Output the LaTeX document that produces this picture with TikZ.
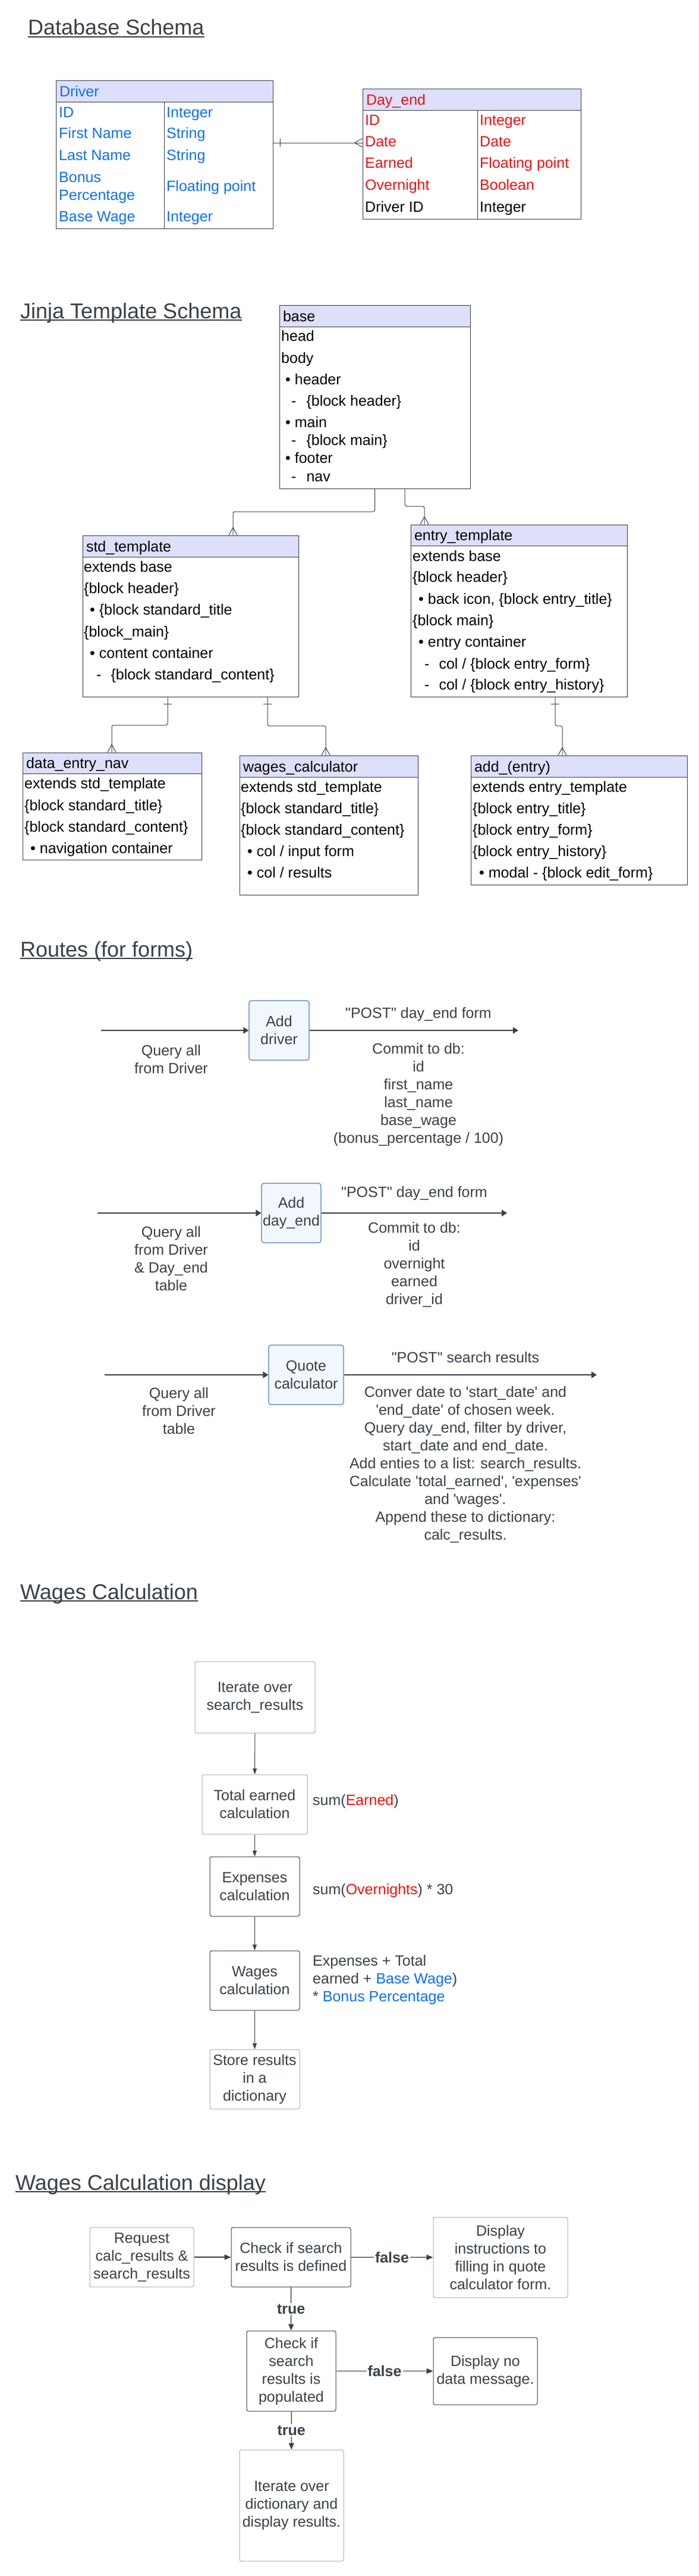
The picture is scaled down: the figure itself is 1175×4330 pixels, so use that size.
\documentclass[tikz,border=0pt]{standalone}
\usepackage{fontspec}
\setmainfont{Liberation Sans}
\usetikzlibrary{arrows.meta,decorations.markings}

\definecolor{ink}{HTML}{3A414A}
\definecolor{headfill}{HTML}{DEDFFA}
\definecolor{dbblue}{HTML}{1071E5}
\definecolor{dbred}{HTML}{E81313}
\definecolor{routefill}{HTML}{F2F7FD}
\definecolor{routeline}{HTML}{4B7DB8}
\definecolor{softline}{HTML}{A9ADB3}

\newcommand{\rowfont}{\fontsize{25}{30}\selectfont}
\newcommand{\titlefont}{\fontsize{36}{43}\selectfont}
\newcommand{\dquo}{\textquotedbl}
\newcommand{\squo}{\textquotesingle}

\tikzset{
  heading/.style={anchor=base west, inner sep=0pt, font=\titlefont, text=ink},
  titlerule/.style={draw=ink, line width=2pt},
  tablebody/.style={draw=ink, line width=1pt, fill=white, inner sep=0pt},
  tablehead/.style={draw=ink, line width=1pt, fill=headfill, anchor=north, inner xsep=6pt, inner ysep=0pt, align=left, font=\rowfont, text height=18pt, text depth=0pt},
  tableline/.style={draw=ink, line width=1pt},
  row/.style={anchor=west, inner sep=0pt, font=\rowfont, text height=18pt, text depth=0pt},
  relation/.style={draw=ink, line width=1pt, rounded corners=3pt},
  onemark/.style={postaction={decorate, decoration={markings, mark=at position 12pt with {\draw[ink, line width=1pt] (0pt,-7pt) -- (0pt,7pt);}}}},
  crowfoot/.style={postaction={decorate, decoration={markings, mark=at position 1 with {\draw[ink, line width=1pt] (-13pt,0pt) -- (0pt,7pt) (-13pt,0pt) -- (0pt,-7pt);}}}},
  routebox/.style={draw=routeline, fill=routefill, line width=1.2pt, rounded corners=4pt, minimum height=100pt, align=center, font=\rowfont, text=ink, inner sep=0pt},
  route/.style={draw=ink, line width=1.5pt, -{Triangle[length=9pt, width=11pt]}},
  note/.style={align=center, font=\rowfont, text=ink, inner sep=0pt},
  sidenote/.style={anchor=west, align=left, font=\rowfont, text=ink, inner sep=0pt},
  flowbox/.style={draw=ink, line width=1pt, rounded corners=3pt, align=center, font=\rowfont, text=ink, inner sep=0pt},
  softbox/.style={flowbox, draw=softline},
  wstep/.style={draw=ink, line width=1pt, -{Triangle[length=10pt, width=7pt]}},
  dflow/.style={draw=ink, line width=1.3pt, -{Triangle[length=11pt, width=9pt]}},
  decision/.style={fill=white, font=\rowfont\bfseries, text=ink, inner sep=2pt}
}

\begin{document}
\begin{tikzpicture}[x=1pt, y=-1pt]

    \fill[white] (0,0) rectangle (1175,4330);
    \useasboundingbox (0,0) rectangle (1175,4330);

    \coordinate (C1)  at (276.5, 260);
    \coordinate (C2)  at (793.5, 259);
    \coordinate (C3)  at (630.5, 667);
    \coordinate (C4)  at (320.5, 1035.5);
    \coordinate (C5)  at (873, 1026.5);
    \coordinate (C6)  at (188.5, 1355);
    \coordinate (C7)  at (553, 1387);
    \coordinate (C8)  at (974, 1378.5);
    \coordinate (C9)  at (469.5, 1732);
    \coordinate (C10) at (490, 2039);
    \coordinate (C11) at (515, 2311);
    \coordinate (C12) at (429, 2853);
    \coordinate (C13) at (428.5, 3033);
    \coordinate (C14) at (428.5, 3171);
    \coordinate (C15) at (428.5, 3329);
    \coordinate (C16) at (428.5, 3495);
    \coordinate (C17) at (238.5, 3794);
    \coordinate (C18) at (489.5, 3794);
    \coordinate (C19) at (842, 3794.5);
    \coordinate (C20) at (490, 3985.5);
    \coordinate (C21) at (816.5, 3985.5);
    \coordinate (C22) at (490.5, 4211.5);

    \coordinate (L0)  at (0, 240);
    \coordinate (L2a) at (681, 851);
    \coordinate (L2b) at (714, 851);
    \coordinate (L1)  at (392, 860);
    \coordinate (L3a) at (282, 1219);
    \coordinate (L3b) at (188, 1219);
    \coordinate (L4a) at (450, 1220);
    \coordinate (L4b) at (548, 1220);
    \coordinate (L5a) at (934, 1220);
    \coordinate (L5b) at (946, 1220);

    \coordinate (R1a) at (170, 1732);
    \coordinate (R1b) at (872, 1732);
    \coordinate (R2a) at (164, 2039);
    \coordinate (R2b) at (853, 2039);
    \coordinate (R3a) at (176, 2311);
    \coordinate (R3b) at (1004, 2311);

    \node[heading] (H1) at (47, 59)   {Database Schema};
    \node[heading] (H2) at (34, 535)  {Jinja Template Schema};
    \node[heading] (H3) at (34, 1608) {Routes (for forms)};
    \node[heading] (H4) at (34, 2688) {Wages Calculation};
    \node[heading] (H5) at (26, 3681) {Wages Calculation display};

    \node[tablebody, minimum width=365pt, minimum height=248pt] (Driver) at (C1) {};
    \node[tablehead, text width=353pt, minimum height=36pt, text=dbblue] (DriverHead) at (Driver.north) {Driver};
    \node[row, text=dbblue] (DR1) at (99, 188) {ID};
    \node[row, text=dbblue] (DR2) at (99, 224) {First Name};
    \node[row, text=dbblue] (DR3) at (99, 260) {Last Name};
    \node[row, text=dbblue] (DR4) at (99, 297) {Bonus};
    \node[row, text=dbblue] (DR5) at (99, 327) {Percentage};
    \node[row, text=dbblue] (DR6) at (99, 363) {Base Wage};
    \node[row, text=dbblue] (DT1) at (280, 188) {Integer};
    \node[row, text=dbblue] (DT2) at (280, 224) {String};
    \node[row, text=dbblue] (DT3) at (280, 260) {String};
    \node[row, text=dbblue] (DT4) at (280, 312) {Floating point};
    \node[row, text=dbblue] (DT5) at (280, 363) {Integer};

    \node[tablebody, minimum width=367pt, minimum height=218pt] (DayEnd) at (C2) {};
    \node[tablehead, text width=355pt, minimum height=36pt, text=dbred] (DayEndHead) at (DayEnd.north) {Day\_end};
    \node[row, text=dbred] (ER1) at (614, 202) {ID};
    \node[row, text=dbred] (ER2) at (614, 238) {Date};
    \node[row, text=dbred] (ER3) at (614, 273) {Earned};
    \node[row, text=dbred] (ER4) at (614, 310) {Overnight};
    \node[row]             (ER5) at (614, 347) {Driver ID};
    \node[row, text=dbred] (ET1) at (807, 202) {Integer};
    \node[row, text=dbred] (ET2) at (807, 238) {Date};
    \node[row, text=dbred] (ET3) at (807, 273) {Floating point};
    \node[row, text=dbred] (ET4) at (807, 310) {Boolean};
    \node[row]             (ET5) at (807, 347) {Integer};

    \node[tablebody, minimum width=321pt, minimum height=308pt] (Base) at (C3) {};
    \node[tablehead, text width=309pt, minimum height=36pt] (BaseHead) at (Base.north) {base};
    \node[row] (B1) at (473, 564) {head};
    \node[row] (B2) at (473, 601) {body};
    \node[row] (B3) at (480, 637) {\textbullet\ header};
    \node[row] (B4) at (490, 673) {-\hspace{17pt}\{block header\}};
    \node[row] (B5) at (480, 709) {\textbullet\ main};
    \node[row] (B6) at (490, 739) {-\hspace{17pt}\{block main\}};
    \node[row] (B7) at (480, 769) {\textbullet\ footer};
    \node[row] (B8) at (490, 800) {-\hspace{17pt}nav};

    \node[tablebody, minimum width=363pt, minimum height=271pt] (Std) at (C4) {};
    \node[tablehead, text width=351pt, minimum height=36pt] (StdHead) at (Std.north) {std\_template};
    \node[row] (S1) at (141, 952)  {extends base};
    \node[row] (S2) at (141, 988)  {\{block header\}};
    \node[row] (S3) at (151, 1024) {\textbullet\ \{block standard\_title};
    \node[row] (S4) at (141, 1061) {\{block\_main\}};
    \node[row] (S5) at (151, 1097) {\textbullet\ content container};
    \node[row] (S6) at (162, 1133) {-\hspace{16pt}\{block standard\_content\}};

    \node[tablebody, minimum width=364pt, minimum height=289pt] (Entry) at (C5) {};
    \node[tablehead, text width=352pt, minimum height=35pt] (EntryHead) at (Entry.north) {entry\_template};
    \node[row] (E1) at (694, 934)  {extends base};
    \node[row] (E2) at (694, 969)  {\{block header\}};
    \node[row] (E3) at (704, 1006) {\textbullet\ back icon, \{block entry\_title\}};
    \node[row] (E4) at (694, 1042) {\{block main\}};
    \node[row] (E5) at (704, 1078) {\textbullet\ entry container};
    \node[row] (E6) at (714, 1115) {-\hspace{16pt}col / \{block entry\_form\}};
    \node[row] (E7) at (714, 1150) {-\hspace{16pt}col / \{block entry\_history\}};

    \node[tablebody, minimum width=301pt, minimum height=180pt] (Nav) at (C6) {};
    \node[tablehead, text width=289pt, minimum height=35pt] (NavHead) at (Nav.north) {data\_entry\_nav};
    \node[row] (N1) at (41, 1316) {extends std\_template};
    \node[row] (N2) at (41, 1353) {\{block standard\_title\}};
    \node[row] (N3) at (41, 1389) {\{block standard\_content\}};
    \node[row] (N4) at (51, 1425) {\textbullet\ navigation container};

    \node[tablebody, minimum width=300pt, minimum height=234pt] (Wages) at (C7) {};
    \node[tablehead, text width=288pt, minimum height=36pt] (WagesHead) at (Wages.north) {wages\_calculator};
    \node[row] (W1) at (405, 1322) {extends std\_template};
    \node[row] (W2) at (405, 1358) {\{block standard\_title\}};
    \node[row] (W3) at (405, 1394) {\{block standard\_content\}};
    \node[row] (W4) at (416, 1430) {\textbullet\ col / input form};
    \node[row] (W5) at (416, 1466) {\textbullet\ col / results};

    \node[tablebody, minimum width=364pt, minimum height=217pt] (Add) at (C8) {};
    \node[tablehead, text width=352pt, minimum height=36pt] (AddHead) at (Add.north) {add\_(entry)};
    \node[row] (A1) at (795, 1322) {extends entry\_template};
    \node[row] (A2) at (795, 1358) {\{block entry\_title\}};
    \node[row] (A3) at (795, 1394) {\{block entry\_form\}};
    \node[row] (A4) at (795, 1430) {\{block entry\_history\}};
    \node[row] (A5) at (806, 1466) {\textbullet\ modal - \{block edit\_form\}};

    \node[routebox, minimum width=101pt] (AddDriver) at (C9)  {Add\\driver};
    \node[routebox, minimum width=100pt] (AddDayEnd) at (C10) {Add\\day\_end};
    \node[routebox, minimum width=126pt] (Quote)     at (C11) {Quote\\calculator};

    \node[note] (P1) at (704, 1705) {\dquo{}POST\dquo{} day\_end form};
    \node[note] (Q1) at (288, 1781) {Query all\\from Driver};
    \node[note] (M1) at (704, 1840) {Commit to db:\\id\\first\_name\\last\_name\\base\_wage\\(bonus\_percentage / 100)};
    \node[note] (P2) at (697, 2006) {\dquo{}POST\dquo{} day\_end form};
    \node[note] (Q2) at (288, 2116) {Query all\\from Driver\\\& Day\_end\\table};
    \node[note] (M2) at (697, 2126) {Commit to db:\\id\\overnight\\earned\\driver\_id};
    \node[note] (P3) at (783, 2282) {\dquo{}POST\dquo{} search results};
    \node[note] (Q3) at (301, 2372) {Query all\\from Driver\\table};
    \node[note] (M3) at (783, 2462) {Conver date to \squo{}start\_date\squo{} and\\\squo{}end\_date\squo{} of chosen week.\\Query day\_end, filter by driver,\\start\_date and end\_date.\\Add enties to a list: search\_results.\\Calculate \squo{}total\_earned\squo{}, \squo{}expenses\squo{}\\and \squo{}wages\squo{}.\\Append these to dictionary:\\calc\_results.};

    \node[softbox, minimum width=202pt, minimum height=120pt] (Iter)  at (C12) {Iterate over\\search\_results};
    \node[softbox, minimum width=177pt, minimum height=100pt] (Total) at (C13) {Total earned\\calculation};
    \node[flowbox, minimum width=151pt, minimum height=100pt] (Exp)   at (C14) {Expenses\\calculation};
    \node[flowbox, minimum width=151pt, minimum height=100pt] (Wage)  at (C15) {Wages\\calculation};
    \node[softbox, minimum width=151pt, minimum height=100pt] (Store) at (C16) {Store results\\in a\\dictionary};

    \node[sidenote] (T1) at (526, 3028) {sum(\textcolor{dbred}{Earned})};
    \node[sidenote] (T2) at (526, 3178) {sum(\textcolor{dbred}{Overnights}) * 30};
    \node[sidenote] (T3) at (526, 3328) {Expenses + Total\\earned + \textcolor{dbblue}{Base Wage})\\* \textcolor{dbblue}{Bonus Percentage}};

    \node[softbox, minimum width=175pt, minimum height=100pt] (Req)    at (C17) {Request\\calc\_results \&\\search\_results};
    \node[flowbox, minimum width=201pt, minimum height=100pt] (Def)    at (C18) {Check if search\\results is defined};
    \node[softbox, minimum width=226pt, minimum height=135pt] (Instr)  at (C19) {Display\\instructions to\\filling in quote\\calculator form.};
    \node[flowbox, minimum width=150pt, minimum height=135pt] (Pop)    at (C20) {Check if\\search\\results is\\populated};
    \node[flowbox, minimum width=175pt, minimum height=113pt] (NoData) at (C21) {Display no\\data message.};
    \node[softbox, minimum width=175pt, minimum height=187pt] (Dict)   at (C22) {Iterate over\\dictionary and\\display results.};

    \draw[titlerule] ([yshift=-3pt]H1.base west) -- ([yshift=-3pt]H1.base east);
    \draw[titlerule] ([yshift=-3pt]H2.base west) -- ([yshift=-3pt]H2.base east);
    \draw[titlerule] ([yshift=-3pt]H3.base west) -- ([yshift=-3pt]H3.base east);
    \draw[titlerule] ([yshift=-3pt]H4.base west) -- ([yshift=-3pt]H4.base east);
    \draw[titlerule] ([yshift=-3pt]H5.base west) -- ([yshift=-3pt]H5.base east);

    \draw[tableline] (276, 172) -- (276, 384);
    \draw[tableline] (803, 186) -- (803, 368);

    \draw[relation, onemark, crowfoot] (Driver.east |- L0) -- (DayEnd.west |- L0);

    \draw[relation, crowfoot] (Base.south) |- (L1) -- (L1 |- Std.north);
    \draw[relation, crowfoot] (Base.south -| L2a) -- (L2a) -- (L2b) -- (Entry.north -| L2b);
    \draw[relation, onemark, crowfoot] (Std.south -| L3a) -- (L3a) -- (L3b) -- (Nav.north -| L3b);
    \draw[relation, onemark, crowfoot] (Std.south -| L4a) -- (L4a) -- (L4b) -- (Wages.north -| L4b);
    \draw[relation, onemark, crowfoot] (Entry.south -| L5a) -- (L5a) -- (L5b) -- (Add.north -| L5b);

    \draw[route] (R1a) -- (AddDriver);
    \draw[route] (AddDriver) -- (R1b);
    \draw[route] (R2a) -- (AddDayEnd);
    \draw[route] (AddDayEnd) -- (R2b);
    \draw[route] (R3a) -- (Quote);
    \draw[route] (Quote) -- (R3b);

    \draw[wstep] (Iter)  -- (Total);
    \draw[wstep] (Total) -- (Exp);
    \draw[wstep] (Exp)   -- (Wage);
    \draw[wstep] (Wage)  -- (Store);

    \draw[dflow] (Req) -- (Def);
    \draw[dflow] (Def) -- node[decision] (F1) {false} (Instr);
    \draw[dflow] (Def) -- node[decision] (V1) {true} (Pop);
    \draw[dflow] (Pop) -- node[decision] (F2) {false} (NoData);
    \draw[dflow] (Pop) -- node[decision] (V2) {true} (Dict);

\end{tikzpicture}
\end{document}
